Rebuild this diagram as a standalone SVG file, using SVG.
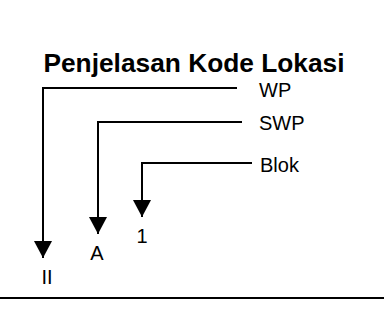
<svg xmlns="http://www.w3.org/2000/svg" width="384" height="320" viewBox="0 0 384 320">
  <style>
    .t { font-family: "Liberation Sans", Arial, sans-serif; font-size: 20px; fill: #000; }
    .title { font-family: "Liberation Sans", Arial, sans-serif; font-size: 26.3px; font-weight: bold; fill: #000; }
    .c { fill: none; stroke: #000; stroke-width: 2; }
  </style>
  <defs>
    <marker id="ah" viewBox="0 0 17 18" refX="17" refY="9" markerWidth="17" markerHeight="18" markerUnits="userSpaceOnUse" orient="auto">
      <path d="M0,0 L17,9 L0,18 Z" fill="#000"/>
    </marker>
  </defs>
  <rect width="384" height="320" fill="#fff"/>
  <g id="title"><text class="title" x="194" y="71.5" text-anchor="middle">Penjelasan Kode Lokasi</text></g>
  <g id="wp"><text class="t" x="259" y="97">WP</text></g>
  <g id="swp"><text class="t" x="259" y="130">SWP</text></g>
  <g id="blok"><text class="t" x="260" y="172">Blok</text></g>
  <g id="val-ii"><text class="t" x="47" y="284" text-anchor="middle">II</text></g>
  <g id="val-a"><text class="t" x="97" y="260" text-anchor="middle">A</text></g>
  <g id="val-1"><text class="t" x="142" y="243" text-anchor="middle">1</text></g>
  <g id="connectors">
    <path class="c" d="M237,88 H43 V258" marker-end="url(#ah)"/>
    <path class="c" d="M242,122 H98 V234" marker-end="url(#ah)"/>
    <path class="c" d="M252,163 H142 V217" marker-end="url(#ah)"/>
    <line class="c" x1="0" y1="298" x2="384" y2="298"/>
  </g>
</svg>
